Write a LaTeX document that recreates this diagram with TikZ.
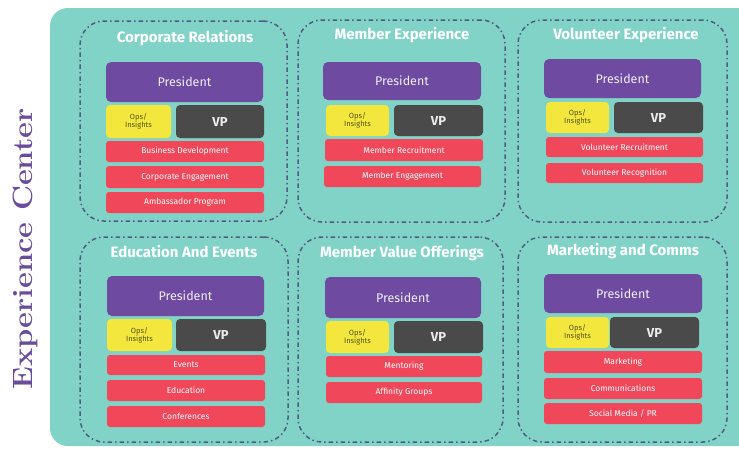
\documentclass[tikz,border=0pt]{standalone}
\usepackage{fontspec}
\usepackage{graphicx}
\setmainfont{Fira Sans}
\newfontfamily\serifec{Latin Modern Roman}
\definecolor{bgteal}{HTML}{80D3C6}
\definecolor{prp}{HTML}{6E4AA0}
\definecolor{ylw}{HTML}{F3E63C}
\definecolor{dgray}{HTML}{4A4A4A}
\definecolor{rd}{HTML}{F1475A}
\definecolor{dash}{HTML}{4F5D82}
\definecolor{ecpurple}{HTML}{6A4C9C}
\definecolor{opstext}{HTML}{55551E}
\tikzset{
  grp/.style={draw=dash, line width=1.5pt, rounded corners=24pt,
    dash pattern=on 4.5pt off 3pt on 1.5pt off 3pt, inner sep=0pt},
  ttl/.style={text=white, font=\fontsize{15}{16}\selectfont\bfseries, inner sep=0pt},
  pres/.style={fill=prp, rounded corners=5pt, text=white!90!prp, font=\fontsize{12.5}{13}\selectfont, inner sep=0pt},
  ops/.style={fill=ylw, rounded corners=4pt, text=opstext, font=\fontsize{7.5}{8}\selectfont, align=center, inner sep=0pt},
  vp/.style={fill=dgray, rounded corners=4pt, text=white!92!black, font=\fontsize{13}{13}\selectfont\bfseries, inner sep=0pt},
  unit/.style={fill=rd, rounded corners=3pt, text=white, font=\fontsize{8.5}{9}\selectfont, inner sep=0pt},
}
\newcommand\rbox[7]{\node[#6, minimum width={(#4)-(#2)}, minimum height={(#5)-(#3)}] (#1) at ({(#2+#4)/2},{(#3+#5)/2}) {#7};}
\begin{document}
\begin{tikzpicture}[x=1pt,y=-1pt]
\useasboundingbox (0,0) rectangle (739,448);
\fill[bgteal, rounded corners=18pt] (50,8) rectangle (780,446);
\node[rotate=90, text=ecpurple, inner sep=0pt] (ec) at (25,249) {\scalebox{1.1}[1]{\serifec\bfseries\fontsize{28}{28}\selectfont Experience Center}};
% Block 1
\rbox{g1}{80}{21}{287}{221}{grp}{}
\node[ttl] (t1) at (185,38) {Corporate Relations};
\rbox{p1}{106}{62}{263}{102}{pres}{President}
\rbox{o1}{106}{105}{171}{138}{ops}{Ops/\\Insights}
\rbox{v1}{176}{105}{264}{138}{vp}{VP}
\rbox{u11}{106}{141}{264}{162}{unit}{Business Development}
\rbox{u12}{106}{166}{264}{188}{unit}{Corporate Engagement}
\rbox{u13}{106}{192}{264}{213}{unit}{Ambassador Program}
% Block 2
\rbox{g2}{298}{20}{505}{222}{grp}{}
\node[ttl] (t2) at (402,35) {Member Experience};
\rbox{p2}{323}{62}{481}{100}{pres}{President}
\rbox{o2}{326}{105}{389}{136}{ops}{Ops/\\Insights}
\rbox{v2}{394}{105}{483}{136}{vp}{VP}
\rbox{u21}{325}{139}{483}{161}{unit}{Member Recruitment}
\rbox{u22}{324}{166}{481}{187}{unit}{Member Engagement}
% Block 3
\rbox{g3}{518}{20}{727}{222}{grp}{}
\node[ttl] (t3) at (626,35) {Volunteer Experience};
\rbox{p3}{544}{59}{701}{98}{pres}{President}
\rbox{o3}{546}{102}{609}{133}{ops}{Ops/\\Insights}
\rbox{v3}{614}{102}{703}{133}{vp}{VP}
\rbox{u31}{546}{137}{703}{157}{unit}{Volunteer Recruitment}
\rbox{u32}{546}{163}{703}{183}{unit}{Volunteer Recognition}
% Block 4
\rbox{g4}{80}{237}{288}{442}{grp}{}
\node[ttl] (t4) at (184,252) {Education And Events};
\rbox{p4}{107}{276}{264}{316}{pres}{President}
\rbox{o4}{107}{319}{172}{351}{ops}{Ops/\\Insights}
\rbox{v4}{176}{319}{266}{351}{vp}{VP}
\rbox{u41}{107}{355}{265}{375}{unit}{Events}
\rbox{u42}{107}{380}{265}{401}{unit}{Education}
\rbox{u43}{107}{406}{265}{427}{unit}{Conferences}
% Block 5
\rbox{g5}{298}{237}{503}{442}{grp}{}
\node[ttl] (t5) at (402,253) {Member Value Offerings};
\rbox{p5}{325}{277}{481}{318}{pres}{President}
\rbox{o5}{326}{321}{389}{353}{ops}{Ops/\\Insights}
\rbox{v5}{394}{321}{483}{353}{vp}{VP}
\rbox{u51}{326}{356}{482}{377}{unit}{Mentoring}
\rbox{u52}{326}{382}{482}{403}{unit}{Affinity Groups}
% Block 6
\rbox{g6}{518}{237}{727}{442}{grp}{}
\node[ttl] (t6) at (623,251) {Marketing and Comms};
\rbox{p6}{544}{274}{702}{313}{pres}{President}
\rbox{o6}{546}{317}{609}{348}{ops}{Ops/\\Insights}
\rbox{v6}{610}{317}{699}{348}{vp}{VP}
\rbox{u61}{544}{351}{702}{373}{unit}{Marketing}
\rbox{u62}{544}{378}{702}{399}{unit}{Communications}
\rbox{u63}{544}{403}{702}{424}{unit}{Social Media / PR}
\end{tikzpicture}
\end{document}
